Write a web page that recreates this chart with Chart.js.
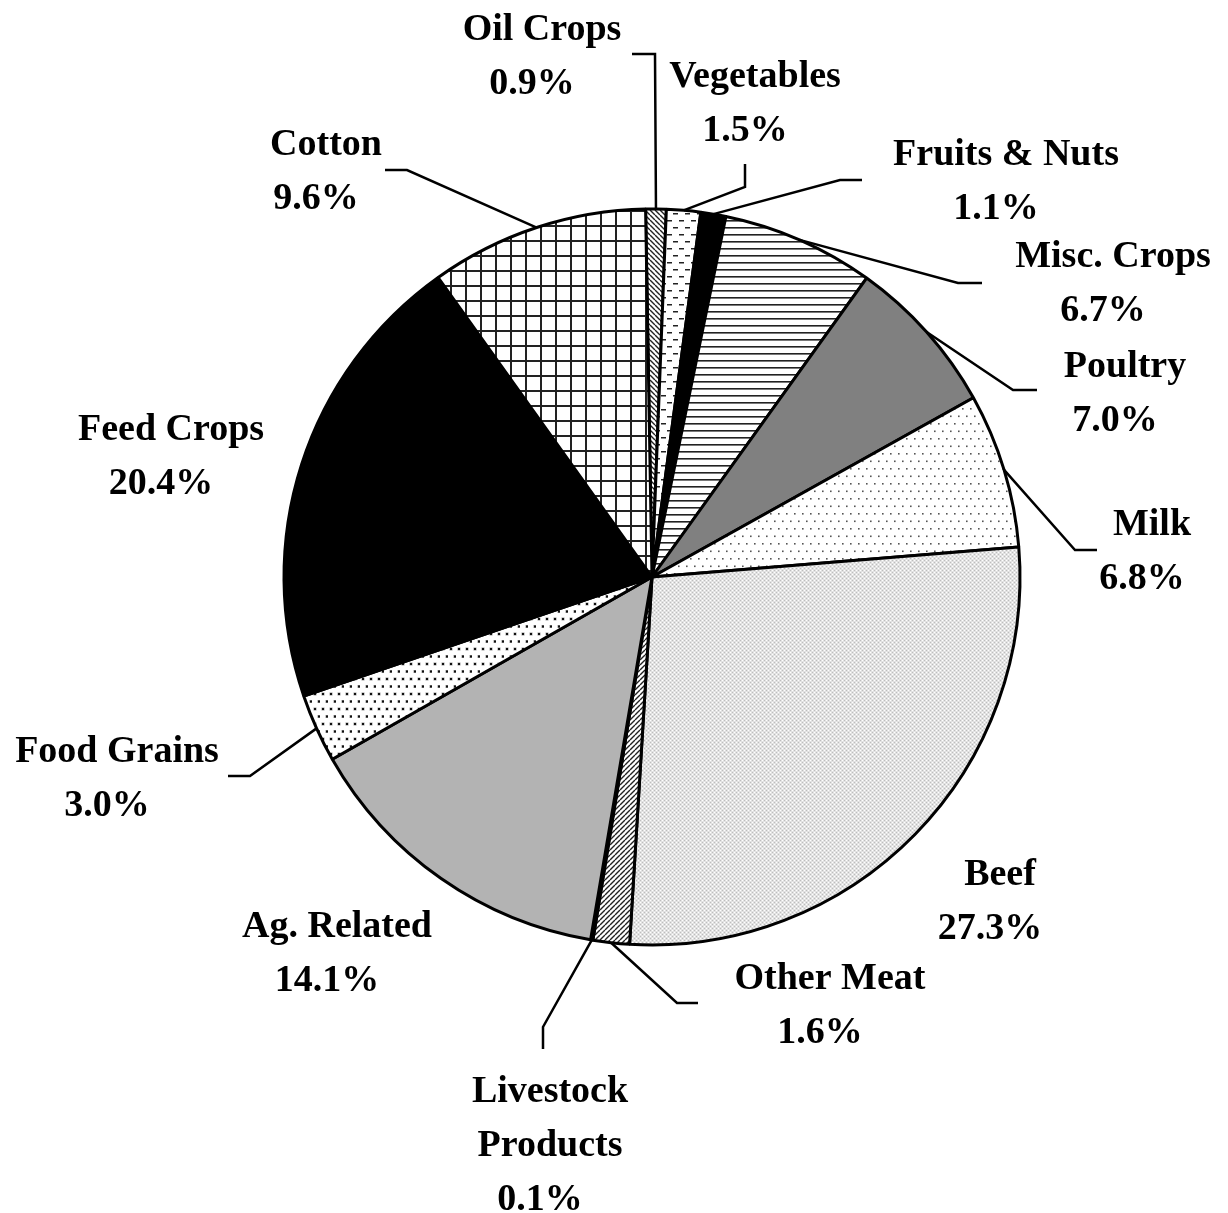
<!DOCTYPE html>
<html>
<head>
<meta charset="utf-8">
<script src="https://cdn.jsdelivr.net/npm/chart.js@4.4.1/dist/chart.umd.min.js"></script>
<style>
  html, body { margin: 0; padding: 0; background: #fff; }
  canvas { display: block; }
</style>
</head>
<body>
<canvas id="myChart" width="1228" height="1213"></canvas>
<script>
// data, clockwise from 12 o'clock
var categories = ['Oil Crops', 'Vegetables', 'Fruits & Nuts', 'Misc. Crops', 'Poultry', 'Milk', 'Beef',
    'Other Meat', 'Livestock Products', 'Ag. Related', 'Food Grains', 'Feed Crops', 'Cotton'];
var shares = [0.9, 1.5, 1.1, 6.7, 7.0, 6.8, 27.3, 1.6, 0.1, 14.1, 3.0, 20.4, 9.6];

// fill style for each slice
var fillKinds = ['hatchBack', 'dashes', '#000000', 'hlines', '#808080', 'dotsSparse', 'checker',
    'hatchFwd', '#ffffff', '#b3b3b3', 'dotsDense', '#000000', 'grid'];

// label placement: text centre x, first baseline y, leader elbow and end
var labelLayout = [
    { x: 542, y: 40, elbow: [655, 54], end: [632, 54] },
    { x: 755, y: 87, elbow: [745, 187], end: [745, 164] },
    { x: 1006, y: 165, elbow: [840, 180], end: [862, 180] },
    { x: 1113, y: 267, elbow: [958, 283], end: [982, 283] },
    { x: 1125, y: 377, elbow: [1013, 390], end: [1037, 390] },
    { x: 1152, y: 535, elbow: [1075, 550], end: [1097, 550] },
    { x: 1000, y: 885 },
    { x: 830, y: 989, elbow: [677, 1003], end: [698, 1003] },
    { x: 550, y: 1102, wrap: true, elbow: [543, 1027], end: [543, 1049] },
    { x: 337, y: 937 },
    { x: 117, y: 762, elbow: [250, 776], end: [228, 776] },
    { x: 171, y: 440 },
    { x: 326, y: 155, elbow: [407, 170], end: [385, 170] }
];

function makePattern(kind) {
    if (kind.charAt(0) === '#') return kind;
    var c = document.createElement('canvas');
    var w = 8, h = 8;
    if (kind === 'hatchBack' || kind === 'hatchFwd') { w = 5; h = 5; }
    if (kind === 'dashes') { w = 12; h = 14; }
    if (kind === 'hlines') { w = 8; h = 7; }
    if (kind === 'dotsSparse' || kind === 'dotsDense') { w = 8; h = 15; }
    if (kind === 'checker') { w = 4; h = 4; }
    if (kind === 'grid') { w = 15; h = 15; }
    c.width = w; c.height = h;
    var g = c.getContext('2d');
    g.fillStyle = '#ffffff';
    g.fillRect(0, 0, w, h);
    if (kind === 'hatchBack' || kind === 'hatchFwd') {
        g.strokeStyle = '#222';
        g.lineWidth = 1.4;
        g.beginPath();
        for (var k = -1; k <= 1; k++) {
            if (kind === 'hatchBack') { g.moveTo(k * w, 0); g.lineTo(k * w + w, h); }
            else { g.moveTo(k * w, h); g.lineTo(k * w + w, 0); }
        }
        g.stroke();
    } else if (kind === 'dashes') {
        g.fillStyle = '#222';
        g.fillRect(1, 3, 5, 1.5);
        g.fillRect(7, 10, 5, 1.5);
    } else if (kind === 'hlines') {
        g.fillStyle = '#222';
        g.fillRect(0, 3, w, 1.6);
    } else if (kind === 'dotsSparse') {
        g.fillStyle = '#555';
        g.fillRect(2, 3, 1.6, 1.6);
        g.fillRect(6, 10.5, 1.6, 1.6);
    } else if (kind === 'dotsDense') {
        g.fillStyle = '#999';
        g.fillRect(1.5, 2.5, 3, 3);
        g.fillRect(5.5, 10, 3, 3);
        g.fillStyle = '#111';
        g.fillRect(2, 3, 2, 2);
        g.fillRect(6, 10.5, 2, 2);
    } else if (kind === 'checker') {
        g.fillStyle = '#e2e2e2';
        g.fillRect(0, 0, w, h);
        g.fillStyle = '#bdbdbd';
        g.fillRect(0, 0, 1, 1);
        g.fillRect(2, 2, 1, 1);
        g.fillStyle = '#ffffff';
        g.fillRect(2, 0, 1, 1);
        g.fillRect(0, 2, 1, 1);
    } else if (kind === 'grid') {
        g.fillStyle = '#222';
        g.fillRect(0, 0, 2, h);
        g.fillRect(0, 0, w, 2);
    }
    return g.createPattern(c, 'repeat');
}

var labelPlugin = {
    id: 'sliceLabels',
    afterDraw: function (chart) {
        var c = chart.ctx;
        var arcs = chart.getDatasetMeta(0).data;
        c.save();
        c.strokeStyle = '#000';
        c.lineWidth = 2.5;
        c.fillStyle = '#000';
        c.font = 'bold 38px "Liberation Serif", "Times New Roman", serif';
        c.textAlign = 'center';
        c.textBaseline = 'alphabetic';
        arcs.forEach(function (arc, i) {
            var lay = labelLayout[i];
            var p = arc.getProps(['x', 'y', 'startAngle', 'endAngle', 'outerRadius'], true);
            if (lay.elbow) {
                var mid = (p.startAngle + p.endAngle) / 2;
                c.beginPath();
                c.moveTo(p.x + Math.cos(mid) * p.outerRadius, p.y + Math.sin(mid) * p.outerRadius);
                c.lineTo(lay.elbow[0], lay.elbow[1]);
                c.lineTo(lay.end[0], lay.end[1]);
                c.stroke();
            }
            var lines = lay.wrap ? categories[i].split(' ') : [categories[i]];
            lines.forEach(function (t, j) {
                c.fillText(t, lay.x, lay.y + j * 54);
            });
            c.fillText(shares[i].toFixed(1) + '%', lay.x - 10, lay.y + lines.length * 54);
        });
        c.restore();
    }
};

var ctx = document.getElementById('myChart').getContext('2d');
var myChart = new Chart(ctx, {
    type: 'pie',
    data: {
        labels: categories,
        datasets: [{
            data: shares,
            backgroundColor: fillKinds.map(makePattern),
            borderColor: '#000000',
            borderWidth: 3,
            hoverOffset: 0
        }]
    },
    options: {
        responsive: false,
        animation: false,
        events: [],
        rotation: -1,
        radius: 368,
        layout: {
            padding: { left: 252, right: 176, top: 177, bottom: 236 }
        },
        plugins: {
            legend: { display: false },
            tooltip: { enabled: false }
        }
    },
    plugins: [labelPlugin]
});
</script>
</body>
</html>
